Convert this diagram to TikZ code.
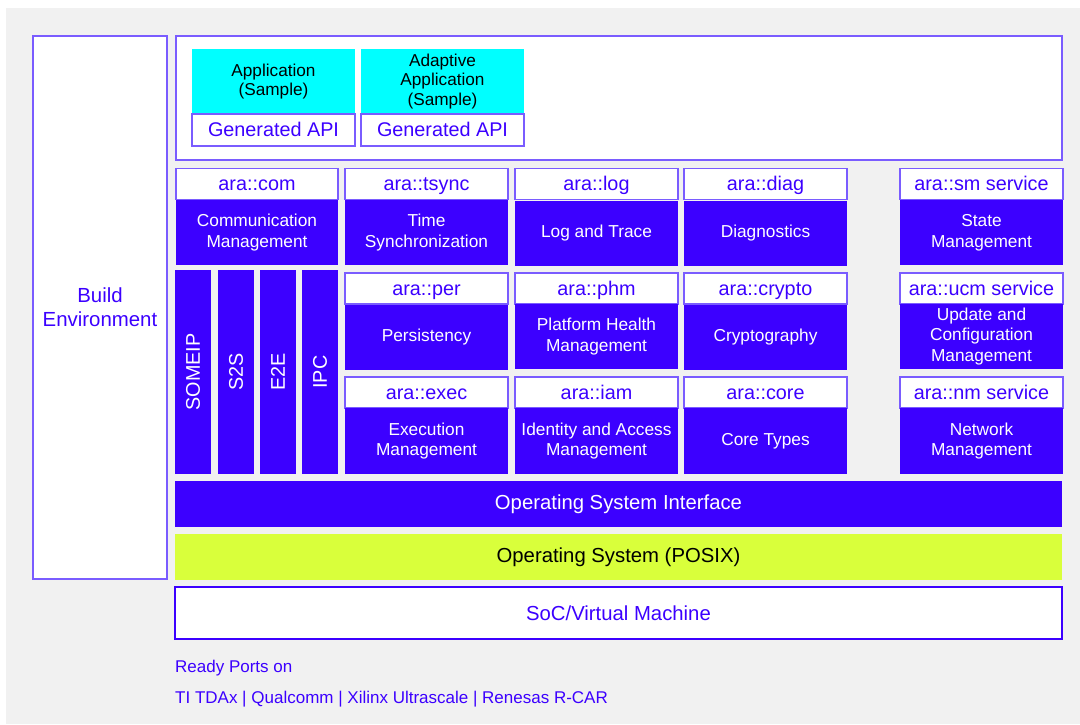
\documentclass[tikz,border=0pt]{standalone}
\usepackage{fontspec}
\setmainfont{Liberation Sans}
\definecolor{araBlue}{HTML}{3C00FF}
\definecolor{araEdge}{HTML}{7A5CFF}
\definecolor{araCyan}{HTML}{00FFFF}
\definecolor{araLime}{HTML}{D9FF3B}
\definecolor{araGray}{HTML}{F1F1F1}

\begin{document}
\begin{tikzpicture}[x=1pt, y=-1pt,
    box/.style={rectangle, inner sep=0pt, align=center, line width=1.4pt},
    frame/.style={box, draw=araEdge, fill=white},
    hdr/.style={frame, text=araBlue, minimum height=31pt, text height=18pt, text depth=4.5pt, font=\fontsize{19.8}{23}\selectfont},
    mod/.style={box, fill=araBlue, text=white, minimum height=65pt, font=\fontsize{17.3}{20.5}\selectfont},
    app/.style={box, fill=araCyan, text=black, minimum width=163pt, minimum height=65pt, font=\fontsize{17.2}{19.5}\selectfont},
    bar/.style={box, fill=araBlue, text=white, rotate=90, minimum width=204pt, minimum height=36pt, font=\fontsize{19.8}{22}\selectfont},
    layer/.style={box, minimum width=887pt, font=\fontsize{20.3}{24}\selectfont},
    note/.style={anchor=base west, inner sep=0pt, text=araBlue, font=\fontsize{17}{20}\selectfont}
  ]
    \useasboundingbox (0,0) rectangle (1080,724);
    \fill[araGray] (6,8) rectangle (1080,724);

    % left column and application frame
    \node[frame, minimum width=134pt, minimum height=543pt, text=araBlue, font=\fontsize{20.4}{24}\selectfont] (build) at (100,307.5) {Build\\Environment};
    \node[frame, minimum width=886pt, minimum height=124pt] (apps) at (619,98) {};

    \node[app] (app) at (273.5,81.5) {Application\\(Sample)};
    \node[hdr, minimum width=163pt, minimum height=32pt] (api1) at (273.5,130) {Generated API};
    \node[app] (adapp) at (442.5,81.5) {Adaptive\\Application\\(Sample)};
    \node[hdr, minimum width=163pt, minimum height=32pt] (api2) at (442.5,130) {Generated API};

    % first row of functional clusters
    \node[hdr, minimum width=162pt] (com) at (257,184) {ara::com};
    \node[mod, minimum width=162pt] (comm) at (257,232.5) {Communication\\Management};
    \node[hdr, minimum width=163pt] (tsync) at (426.5,184) {ara::tsync};
    \node[mod, minimum width=163pt] (time) at (426.5,232.5) {Time\\Synchronization};
    \node[hdr, minimum width=163pt] (log) at (596.5,184) {ara::log};
    \node[mod, minimum width=163pt] (trace) at (596.5,233.5) {Log and Trace};
    \node[hdr, minimum width=163pt] (diag) at (765.5,184) {ara::diag};
    \node[mod, minimum width=163pt] (diagm) at (765.5,233.5) {Diagnostics};
    \node[hdr, minimum width=163pt] (sm) at (981.5,184) {ara::sm service};
    \node[mod, minimum width=163pt] (state) at (981.5,232.5) {State\\Management};

    % communication bindings
    \node[bar] (someip) at (193,372) {SOMEIP};
    \node[bar] (s2s) at (236,372) {S2S};
    \node[bar] (e2e) at (278,372) {E2E};
    \node[bar] (ipc) at (320,372) {IPC};

    % second row
    \node[hdr, minimum width=163pt] (per) at (426.5,288.5) {ara::per};
    \node[mod, minimum width=163pt] (pers) at (426.5,337.5) {Persistency};
    \node[hdr, minimum width=163pt] (phm) at (596.5,288.5) {ara::phm};
    \node[mod, minimum width=163pt] (health) at (596.5,336.5) {Platform Health\\Management};
    \node[hdr, minimum width=163pt] (crypto) at (765.5,288.5) {ara::crypto};
    \node[mod, minimum width=163pt] (crypt) at (765.5,337.5) {Cryptography};
    \node[hdr, minimum width=163pt] (ucm) at (981.5,288.5) {ara::ucm service};
    \node[mod, minimum width=163pt] (update) at (981.5,336.5) {Update and\\Configuration\\Management};

    % third row
    \node[hdr, minimum width=163pt] (exec) at (426.5,392.5) {ara::exec};
    \node[mod, minimum width=163pt, minimum height=66pt] (execm) at (426.5,441) {Execution\\Management};
    \node[hdr, minimum width=163pt] (iam) at (596.5,392.5) {ara::iam};
    \node[mod, minimum width=163pt, minimum height=66pt] (access) at (596.5,441) {Identity and Access\\Management};
    \node[hdr, minimum width=163pt] (core) at (765.5,392.5) {ara::core};
    \node[mod, minimum width=163pt, minimum height=66pt] (types) at (765.5,441) {Core Types};
    \node[hdr, minimum width=163pt] (nm) at (981.5,392.5) {ara::nm service};
    \node[mod, minimum width=163pt, minimum height=66pt] (network) at (981.5,441) {Network\\Management};

    % platform layers
    \node[layer, fill=araBlue, text=white, minimum height=46pt] (osi) at (618.5,504) {Operating System Interface};
    \node[layer, fill=araLime, text=black, minimum height=46pt] (os) at (618.5,557) {Operating System (POSIX)};
    \node[layer, draw=araBlue, fill=white, text=araBlue, minimum height=52pt] (soc) at (618.5,613) {SoC/Virtual Machine};

    \node[note] (ready) at (175,672) {Ready Ports on};
    \node[note] (ports) at (175,703) {TI TDAx | Qualcomm | Xilinx Ultrascale | Renesas R-CAR};
  \end{tikzpicture}
\end{document}
